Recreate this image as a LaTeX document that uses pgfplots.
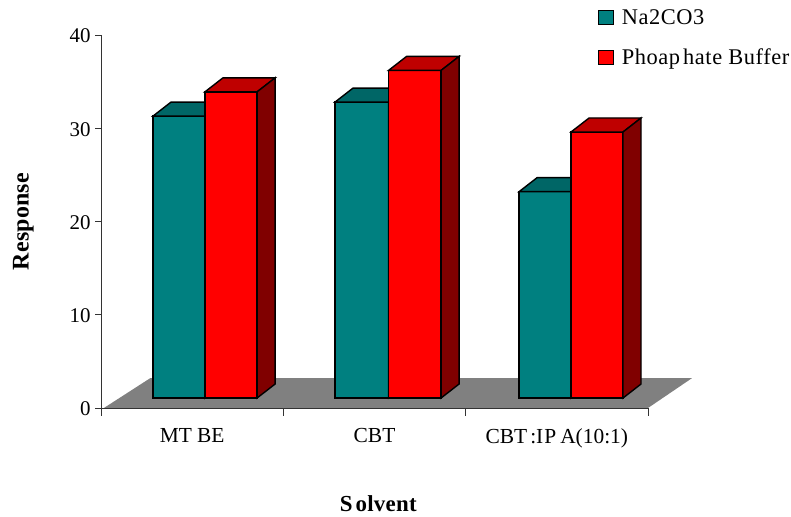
\documentclass[border=0pt]{standalone}
\usepackage{fontspec}
\setmainfont{Liberation Serif}
\newfontfamily\spacedbold[LetterSpace=1,BoldFont={Liberation Serif Bold}]{Liberation Serif}
\newfontfamily\spacedtext[LetterSpace=2.5]{Liberation Serif}
\usepackage{pgfplots}
\pgfplotsset{compat=1.18}

\definecolor{tealfront}{HTML}{008080}
\definecolor{tealtop}{HTML}{006666}
\definecolor{tealside}{HTML}{004040}
\definecolor{redfront}{HTML}{FF0000}
\definecolor{redtop}{HTML}{BF0000}
\definecolor{redside}{HTML}{800000}
\definecolor{floorgray}{HTML}{808080}

% One bar in oblique projection: left edge, right edge, height, three face colours
\newcommand{\obliquebar}[6]{%
  \pgfmathsetmacro{\xr}{#2+0.0987}%
  \pgfmathsetmacro{\xl}{#1+0.0987}%
  \pgfmathsetmacro{\yt}{#3+1.5}%
  \addplot[draw=black,line width=1.4bp,line join=miter,fill=#4,forget plot]
    coordinates {(#1,1.07) (#2,1.07) (#2,#3) (#1,#3)} -- cycle;
  \addplot[draw=black,line width=1.4bp,line join=miter,fill=#5,forget plot]
    coordinates {(#1,#3) (#2,#3) (\xr,\yt) (\xl,\yt)} -- cycle;
  \addplot[draw=black,line width=1.4bp,line join=miter,fill=#6,forget plot]
    coordinates {(#2,1.07) (\xr,2.57) (\xr,\yt) (#2,#3)} -- cycle;
}

\begin{document}
\begin{tikzpicture}[x=1bp,y=1bp]
\path[use as bounding box] (0,0) rectangle (791,517);
\begin{axis}[
  at={(101bp,109bp)}, anchor=south west,
  scale only axis, width=547bp, height=373bp,
  xmin=0, xmax=3, ymin=0, ymax=40,
  clip=false,
  axis lines=left, axis line style={-, line width=0.6bp, black!80},
  xtick={0.5,1.5,2.5},
  xticklabels={MT\kern5bp BE,CBT,CBT\kern3bp:I\kern1bp P\kern4bp A(10:1)},
  minor xtick={0,1,2,3},
  ytick={0,10,20,30,40},
  major x tick style={draw=none},
  minor tick length=8bp,
  major tick length=6bp,
  every tick/.style={black!80,line width=0.6bp},
  tick align=outside,
  every x tick label/.append style={yshift=-11bp,font=\fontsize{21.5}{24}\selectfont},
  every y tick label/.append style={xshift=-1bp,yshift=-1bp,font=\fontsize{21}{23}\selectfont},
  /pgf/number format/assume math mode=true,
  xlabel={\spacedbold\bfseries S\kern3bp olvent},
  ylabel={\spacedbold\bfseries Response},
  xlabel style={font=\fontsize{23}{25}\selectfont,at={(axis description cs:0.507,-0.257)},anchor=center,inner sep=0pt},
  ylabel style={font=\fontsize{24}{26}\selectfont,at={(axis description cs:-0.142,0.5)},anchor=center,rotate=0},
  legend style={at={(axis description cs:0.9086,1.068)},anchor=north west,
    draw=none,fill=none,inner sep=0pt,row sep=23bp,
    nodes={font=\fontsize{22.5}{24}\selectfont\spacedtext,inner sep=0pt,anchor=west}},
  legend cell align=left,
]
% floor of the plot area
\addplot[draw=none,fill=floorgray,forget plot]
  coordinates {(0.016,0) (3,0) (3.241,3.2) (0.27,3.2)} -- cycle;

\obliquebar{0.285}{0.570}{31.3}{tealfront}{tealtop}{tealside}
\obliquebar{0.570}{0.856}{33.9}{redfront}{redtop}{redside}
\obliquebar{1.283}{1.577}{32.8}{tealfront}{tealtop}{tealside}
\obliquebar{1.577}{1.865}{36.2}{redfront}{redtop}{redside}
\obliquebar{2.293}{2.578}{23.2}{tealfront}{tealtop}{tealside}
\obliquebar{2.578}{2.863}{29.6}{redfront}{redtop}{redside}

\addlegendimage{legend image code/.code={
  \draw[black,line width=1bp,fill=tealfront] (0bp,-7bp) rectangle (15bp,7bp);
  \path (23bp,0);}}
\addlegendentry{Na2CO3}
\addlegendimage{legend image code/.code={
  \draw[black,line width=1bp,fill=redfront] (0bp,-7bp) rectangle (15bp,7bp);
  \path (23bp,0);}}
\addlegendentry{Phoap\kern3bp hate Buffer}
\end{axis}
\end{tikzpicture}
\end{document}
